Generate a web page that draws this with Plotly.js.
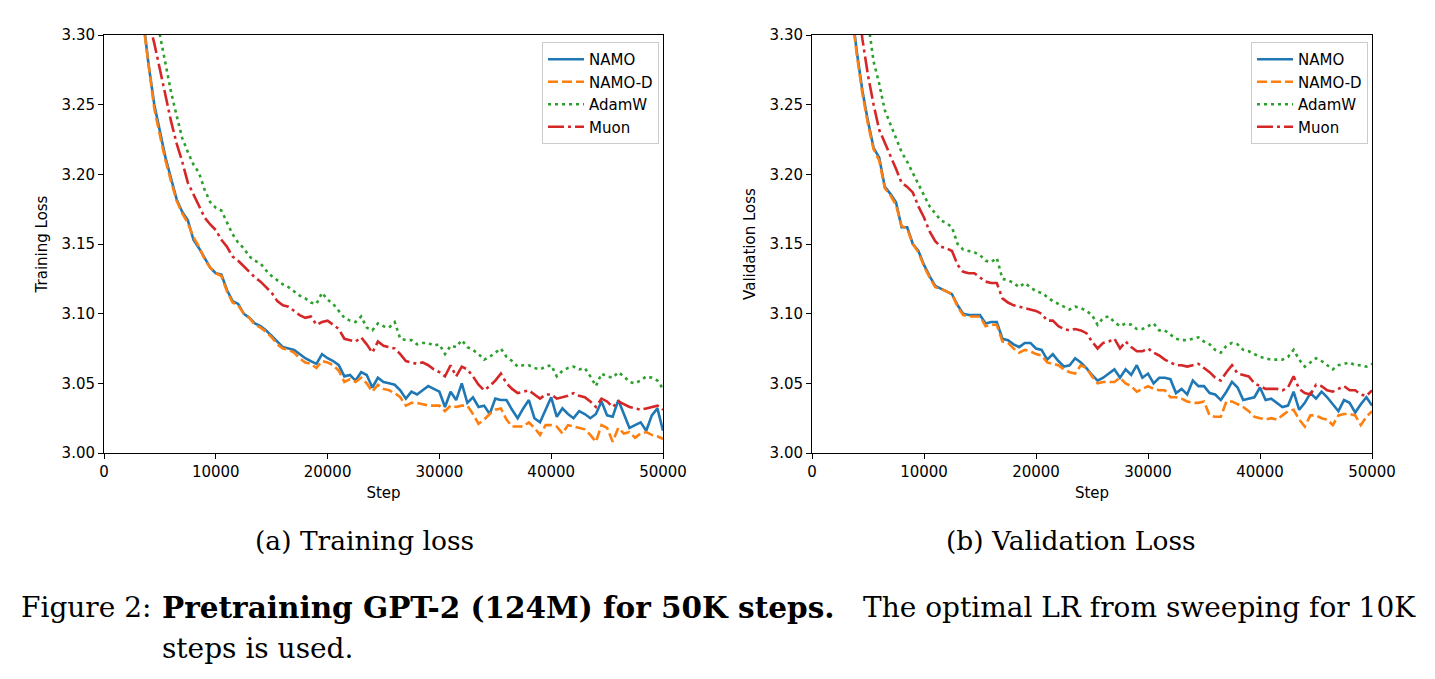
<!DOCTYPE html>
<html>
<head>
<meta charset="utf-8">
<script src="https://cdn.plot.ly/plotly-3.0.1.min.js"></script>
<style>
html,body{margin:0;padding:0;background:#fff;}
#chart{width:1435px;height:679px;}
</style>
</head>
<body>
<div id="chart"></div>
<script>
// ---- data ----
const steps = [3000,3500,4000,4500,5000,5500,6000,6500,7000,7500,8000,8500,9000,9500,10000,10500,11000,11500,12000,12500,13000,13500,14000,14500,15000,15500,16000,16500,17000,17500,18000,18500,19000,19500,20000,20500,21000,21500,22000,22500,23000,23500,24000,24500,25000,25500,26000,26500,27000,27500,28000,28500,29000,29500,30000,30500,31000,31500,32000,32500,33000,33500,34000,34500,35000,35500,36000,36500,37000,37500,38000,38500,39000,39500,40000,40500,41000,41500,42000,42500,43000,43500,44000,44500,45000,45500,46000,46500,47000,47500,48000,48500,49000,49500,50000];

const seriesNames = ["NAMO","NAMO-D","AdamW","Muon"];

const trainNAMO = [3.345,3.312,3.278,3.250,3.230,3.212,3.197,3.182,3.173,3.167,3.153,3.147,3.140,3.133,3.129,3.128,3.117,3.109,3.107,3.100,3.097,3.093,3.091,3.088,3.084,3.080,3.076,3.075,3.074,3.071,3.068,3.066,3.064,3.071,3.068,3.066,3.063,3.055,3.056,3.052,3.058,3.056,3.047,3.054,3.051,3.050,3.049,3.045,3.039,3.044,3.042,3.045,3.048,3.046,3.044,3.033,3.044,3.038,3.050,3.036,3.040,3.033,3.034,3.028,3.039,3.038,3.038,3.031,3.025,3.032,3.038,3.025,3.022,3.031,3.040,3.026,3.032,3.028,3.025,3.030,3.028,3.025,3.028,3.037,3.027,3.026,3.038,3.028,3.018,3.020,3.022,3.016,3.027,3.032,3.016];
const trainNAMOD = [3.340,3.308,3.275,3.247,3.228,3.210,3.195,3.181,3.172,3.165,3.155,3.148,3.139,3.133,3.129,3.127,3.116,3.108,3.106,3.100,3.097,3.092,3.090,3.087,3.083,3.078,3.075,3.074,3.072,3.068,3.065,3.064,3.061,3.066,3.065,3.063,3.059,3.051,3.053,3.051,3.054,3.050,3.044,3.049,3.046,3.045,3.043,3.040,3.034,3.036,3.036,3.035,3.034,3.034,3.034,3.030,3.034,3.033,3.034,3.034,3.028,3.021,3.024,3.028,3.031,3.032,3.024,3.019,3.019,3.019,3.022,3.018,3.013,3.020,3.020,3.019,3.014,3.020,3.019,3.018,3.017,3.013,3.008,3.020,3.018,3.008,3.018,3.014,3.015,3.011,3.014,3.015,3.013,3.012,3.010];
const trainAdamW = [3.410,3.380,3.350,3.322,3.300,3.280,3.259,3.242,3.226,3.216,3.207,3.201,3.189,3.180,3.176,3.174,3.166,3.157,3.151,3.147,3.141,3.138,3.136,3.131,3.127,3.124,3.121,3.119,3.116,3.113,3.111,3.108,3.107,3.115,3.110,3.107,3.102,3.097,3.095,3.094,3.098,3.090,3.088,3.093,3.091,3.090,3.094,3.082,3.081,3.081,3.078,3.079,3.079,3.077,3.078,3.071,3.077,3.076,3.081,3.076,3.074,3.071,3.067,3.069,3.072,3.075,3.069,3.066,3.062,3.063,3.063,3.061,3.060,3.062,3.063,3.055,3.059,3.061,3.062,3.060,3.061,3.055,3.048,3.057,3.055,3.054,3.058,3.055,3.051,3.050,3.052,3.055,3.054,3.052,3.046];
const trainMuon = [3.375,3.340,3.310,3.294,3.275,3.255,3.238,3.222,3.209,3.194,3.186,3.178,3.169,3.164,3.160,3.153,3.148,3.141,3.138,3.134,3.130,3.126,3.123,3.119,3.115,3.109,3.106,3.105,3.102,3.099,3.097,3.098,3.092,3.094,3.095,3.092,3.089,3.082,3.081,3.080,3.083,3.078,3.072,3.080,3.077,3.076,3.075,3.071,3.066,3.065,3.064,3.065,3.063,3.060,3.058,3.055,3.063,3.055,3.062,3.060,3.055,3.049,3.045,3.048,3.052,3.057,3.050,3.046,3.043,3.044,3.045,3.042,3.039,3.042,3.042,3.039,3.040,3.041,3.043,3.041,3.040,3.037,3.033,3.039,3.037,3.033,3.037,3.035,3.033,3.032,3.031,3.032,3.033,3.034,3.031];

const valNAMO = [3.355,3.320,3.288,3.260,3.238,3.219,3.212,3.191,3.186,3.180,3.162,3.162,3.150,3.145,3.135,3.127,3.120,3.118,3.116,3.114,3.106,3.100,3.099,3.099,3.099,3.093,3.094,3.094,3.082,3.081,3.078,3.076,3.079,3.079,3.075,3.074,3.067,3.071,3.066,3.062,3.063,3.068,3.065,3.061,3.056,3.052,3.054,3.057,3.060,3.054,3.060,3.056,3.063,3.054,3.057,3.050,3.054,3.054,3.053,3.043,3.046,3.042,3.052,3.048,3.048,3.043,3.042,3.038,3.044,3.051,3.047,3.038,3.039,3.040,3.047,3.038,3.039,3.036,3.033,3.034,3.044,3.031,3.036,3.043,3.039,3.044,3.040,3.035,3.030,3.038,3.036,3.029,3.035,3.040,3.034];
const valNAMOD = [3.352,3.318,3.286,3.258,3.236,3.218,3.210,3.190,3.185,3.178,3.163,3.161,3.150,3.144,3.134,3.126,3.119,3.118,3.116,3.114,3.105,3.099,3.098,3.098,3.098,3.091,3.092,3.092,3.080,3.079,3.075,3.072,3.074,3.073,3.071,3.070,3.065,3.064,3.063,3.060,3.058,3.057,3.063,3.061,3.055,3.050,3.051,3.051,3.051,3.054,3.050,3.048,3.044,3.046,3.048,3.046,3.045,3.045,3.040,3.040,3.039,3.037,3.036,3.036,3.037,3.027,3.026,3.026,3.037,3.037,3.035,3.033,3.030,3.026,3.025,3.024,3.025,3.024,3.027,3.030,3.031,3.024,3.019,3.027,3.027,3.025,3.024,3.020,3.027,3.028,3.028,3.027,3.020,3.026,3.030];
const valAdamW = [3.420,3.390,3.360,3.333,3.310,3.281,3.265,3.246,3.236,3.226,3.216,3.209,3.201,3.193,3.184,3.177,3.172,3.167,3.165,3.162,3.150,3.146,3.145,3.144,3.142,3.138,3.137,3.140,3.125,3.124,3.122,3.119,3.122,3.119,3.116,3.115,3.112,3.109,3.107,3.105,3.103,3.105,3.104,3.102,3.099,3.092,3.097,3.098,3.094,3.091,3.093,3.092,3.089,3.089,3.091,3.093,3.088,3.088,3.085,3.082,3.081,3.081,3.082,3.083,3.080,3.078,3.074,3.072,3.077,3.079,3.078,3.074,3.073,3.071,3.069,3.068,3.067,3.067,3.067,3.069,3.074,3.067,3.062,3.065,3.068,3.066,3.063,3.060,3.063,3.064,3.065,3.063,3.063,3.062,3.064];
const valMuon = [3.400,3.365,3.330,3.297,3.271,3.250,3.232,3.223,3.213,3.204,3.194,3.191,3.187,3.177,3.169,3.159,3.152,3.148,3.147,3.145,3.135,3.130,3.129,3.129,3.126,3.123,3.122,3.122,3.111,3.108,3.106,3.105,3.104,3.103,3.102,3.100,3.095,3.095,3.091,3.089,3.088,3.089,3.088,3.086,3.080,3.075,3.079,3.080,3.082,3.075,3.080,3.076,3.073,3.073,3.075,3.072,3.070,3.067,3.065,3.063,3.063,3.062,3.063,3.064,3.061,3.058,3.054,3.052,3.058,3.063,3.057,3.056,3.055,3.050,3.048,3.046,3.046,3.046,3.045,3.047,3.055,3.046,3.043,3.042,3.049,3.048,3.045,3.044,3.046,3.048,3.045,3.045,3.042,3.041,3.045];

const xTicks = [0,10000,20000,30000,40000,50000];
const yTicks = [3.00,3.05,3.10,3.15,3.20,3.25,3.30];

// ---- style ----
const colors = ["#1f77b4","#ff7f0e","#2ca02c","#d62728"];
const dashes = ["solid","10px,4px","3px,4px","16px,4px,3px,4px"];
const W = 1435, H = 679;
const px = v => v / W, py = v => 1 - v / H;

function mk(y, i, xa, ya, leg) {
  return {x: steps, y: y, type: "scatter", mode: "lines", name: seriesNames[i],
    xaxis: xa, yaxis: ya, legend: leg,
    line: {color: colors[i], width: 2.6, dash: dashes[i]}};
}
const traces = [
  mk(trainNAMO,0,"x","y","legend"), mk(trainNAMOD,1,"x","y","legend"),
  mk(trainAdamW,2,"x","y","legend"), mk(trainMuon,3,"x","y","legend"),
  mk(valNAMO,0,"x2","y2","legend2"), mk(valNAMOD,1,"x2","y2","legend2"),
  mk(valAdamW,2,"x2","y2","legend2"), mk(valMuon,3,"x2","y2","legend2")
];

const tickFont = {family: "DejaVu Sans, sans-serif", size: 15, color: "#000"};
function xax(dom, anchor) {
  return {domain: dom, anchor: anchor, range: [0, 50000], tickvals: xTicks,
    ticktext: xTicks.map(String), ticks: "outside", ticklen: 5, tickwidth: 1, tickcolor: "#000",
    showline: true, linecolor: "#000", linewidth: 1, mirror: true, showgrid: false, zeroline: false,
    tickfont: tickFont, title: {text: "Step", font: tickFont, standoff: 7}};
}
function yax(title, anchor) {
  return {domain: [py(453), py(35)], anchor: anchor, range: [3.0, 3.3], tickvals: yTicks,
    ticktext: yTicks.map(v => v.toFixed(2)), ticks: "outside", ticklen: 5, tickwidth: 1, tickcolor: "#000",
    showline: true, linecolor: "#000", linewidth: 1, mirror: true, showgrid: false, zeroline: false,
    tickfont: tickFont, title: {text: title, font: tickFont, standoff: 10}};
}
const legFont = {family: "DejaVu Sans, sans-serif", size: 15, color: "#000"};
function leg(xr) {
  return {x: px(xr), y: py(42), xanchor: "right", yanchor: "top", bgcolor: "#fff",
    bordercolor: "#cccccc", borderwidth: 1, font: legFont, tracegroupgap: 0, itemwidth: 36};
}
const serif = "DejaVu Serif, serif";
const capFont = {family: serif, size: 26.5, color: "#000"};
const lineFont = {family: serif, size: 28, color: "#000"};
const layout = {
  width: W, height: H, margin: {l: 0, r: 0, t: 0, b: 0},
  paper_bgcolor: "#fff", plot_bgcolor: "#fff", showlegend: true,
  xaxis: xax([px(104), px(663)], "y"), yaxis: yax("Training Loss", "x"),
  xaxis2: xax([px(812), px(1372)], "y2"), yaxis2: yax("Validation Loss", "x2"),
  legend: leg(659), legend2: leg(1368),
  annotations: [
    {text: "(a) Training loss", x: px(364), y: py(540), xref: "paper", yref: "paper",
     showarrow: false, xanchor: "center", yanchor: "middle", font: capFont},
    {text: "(b) Validation Loss", x: px(1071), y: py(540), xref: "paper", yref: "paper",
     showarrow: false, xanchor: "center", yanchor: "middle", font: capFont},
    {text: "Figure 2:", x: px(19), y: py(607), xref: "paper", yref: "paper", showarrow: false,
     xanchor: "left", yanchor: "middle", font: lineFont},
    {text: "<b>Pretraining GPT-2 (124M) for 50K steps.</b>", x: px(160), y: py(607), xref: "paper", yref: "paper",
     showarrow: false, xanchor: "left", yanchor: "middle", font: {family: serif, size: 29.5, color: "#000"}},
    {text: "The optimal LR from sweeping for 10K", x: px(1418), y: py(607), xref: "paper", yref: "paper",
     showarrow: false, xanchor: "right", yanchor: "middle", font: lineFont},
    {text: "steps is used.", x: px(160), y: py(648), xref: "paper", yref: "paper", showarrow: false,
     xanchor: "left", yanchor: "middle", font: lineFont}
  ]
};
Plotly.newPlot("chart", traces, layout, {displayModeBar: false, staticPlot: true});
</script>
</body>
</html>
